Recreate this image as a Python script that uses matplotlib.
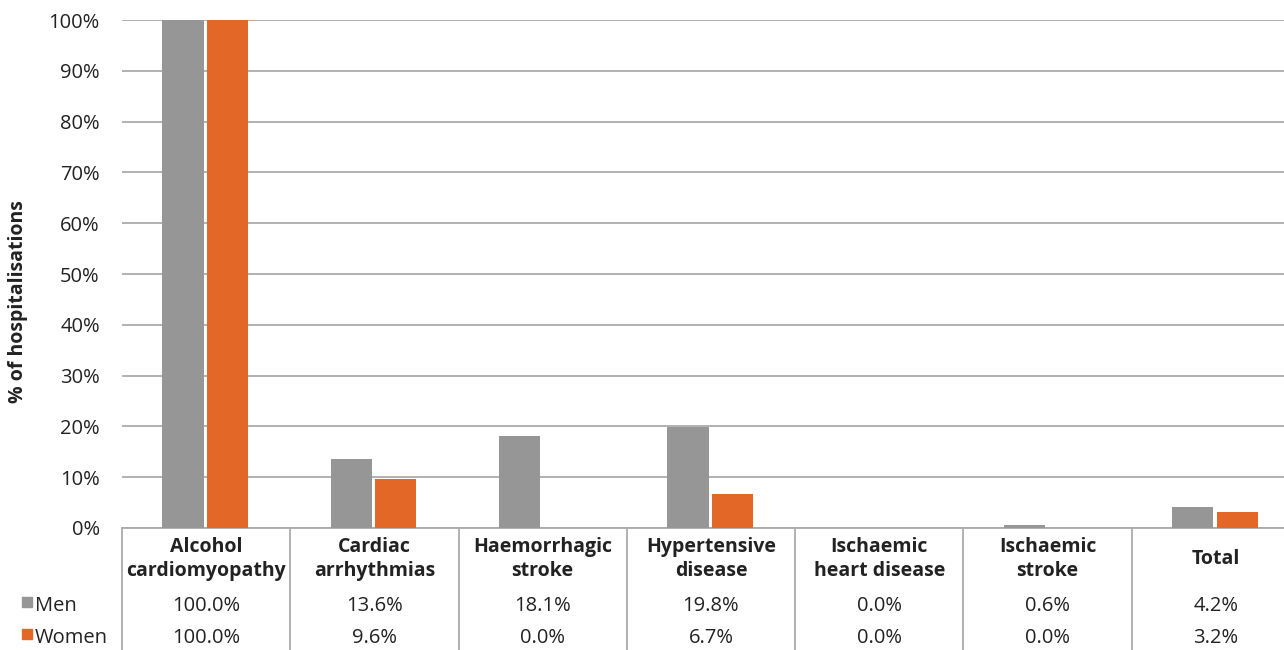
import matplotlib.pyplot as plt
import matplotlib.transforms as mtransforms
from matplotlib.patches import Rectangle
from matplotlib.ticker import PercentFormatter

plt.rcParams["font.family"] = ["Open Sans", "DejaVu Sans"]

categorias = ["Alcohol\ncardiomyopathy", "Cardiac\narrhythmias", "Haemorrhagic\nstroke",
              "Hypertensive\ndisease", "Ischaemic\nheart disease", "Ischaemic\nstroke", "Total"]
homens   = [100.0, 13.6, 18.1, 19.8, 0.0, 0.6, 4.2]
mulheres = [100.0, 9.6, 0.0, 6.7, 0.0, 0.0, 3.2]
series   = ["Men", "Women"]

cinza   = "#969696"
laranja = "#E36727"
linha   = "#ABABAB"
texto   = "#222222"

fig = plt.figure(figsize=(12.84, 6.5), dpi=100)
ax = fig.add_axes([0.0950, 0.1877, 0.9174, 0.7815])

x = list(range(len(categorias)))
largura = 0.245
ax.bar([xi - 0.137 for xi in x], homens, largura, color=cinza, zorder=3)
ax.bar([xi + 0.127 for xi in x], mulheres, largura, color=laranja, zorder=3)

ax.set_xlim(-0.5, len(categorias) - 0.5)
ax.set_ylim(0, 100)
ax.set_yticks(range(0, 101, 10))
ax.yaxis.set_major_formatter(PercentFormatter(decimals=0))
ax.tick_params(axis="y", length=0, labelsize=14.5, labelcolor=texto, pad=16)
ax.set_xticks([])
ax.grid(axis="y", color=linha, linewidth=1.3, zorder=0)
for lado in ["top", "right", "left"]:
    ax.spines[lado].set_visible(False)
ax.spines["bottom"].set_color(linha)
ax.spines["bottom"].set_linewidth(1.3)
ax.set_ylabel("% of hospitalisations", fontsize=14, fontweight="bold", color=texto)
ax.yaxis.set_label_coords(-0.0795, 0.445)

# tabela de dados abaixo do eixo
trans = mtransforms.blended_transform_factory(ax.transData, fig.transFigure)
for xi in [v - 0.5 for v in x] + [len(x) - 0.5]:
    ax.plot([xi, xi], [0.1877, 0.0], transform=trans, color=linha, lw=1.3, clip_on=False)

for xi, nome, h, m in zip(x, categorias, homens, mulheres):
    ax.text(xi, 0.1400, nome, transform=trans, ha="center", va="center", fontsize=14,
            fontweight="bold", color=texto, linespacing=1.3)
    ax.text(xi, 0.0677, f"{h:.1f}%", transform=trans, ha="center", va="center",
            fontsize=14.5, color=texto)
    ax.text(xi, 0.0185, f"{m:.1f}%", transform=trans, ha="center", va="center",
            fontsize=14.5, color=texto)

# legenda da tabela
for y, cor, nome in [(0.0677, cinza, series[0]), (0.0185, laranja, series[1])]:
    fig.patches.append(Rectangle((22 / 1284, y - 0.0015), 10 / 1284, 10 / 650,
                                 transform=fig.transFigure, color=cor))
    fig.text(35 / 1284, y, nome, ha="left", va="center", fontsize=14.5, color=texto)

fig.savefig("out.png", dpi=100)
